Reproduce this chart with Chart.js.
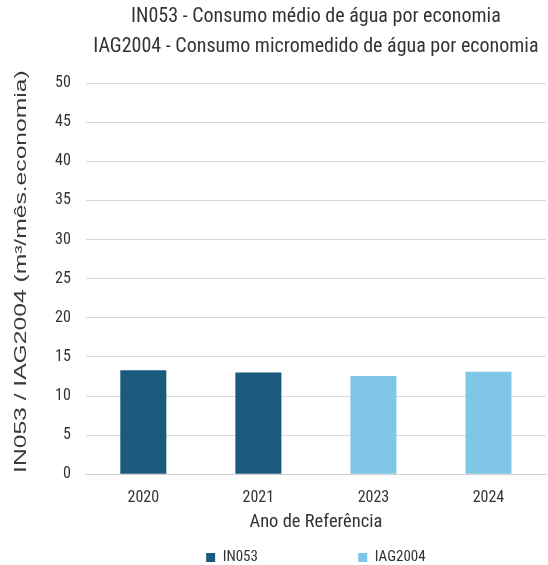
<!DOCTYPE html>
<html>
<head>
<meta charset="utf-8">
<script src="https://cdn.jsdelivr.net/npm/chart.js@4/dist/chart.umd.min.js"></script>
<style>
    html, body { margin: 0; padding: 0; background: #fff; }
    #wrap { width: 548px; height: 565px; }
</style>
</head>
<body>
<div id="wrap"><canvas id="consumoChart"></canvas></div>
<script>
// Chart data
const years = ['2020', '2021', '2023', '2024'];
const in053Values = [13.3, 13.0, null, null];
const iag2004Values = [null, null, 12.55, 13.1];
const seriesNames = ['IN053', 'IAG2004'];
const titleLines = [
    'IN053 - Consumo médio de água por economia',
    'IAG2004 - Consumo micromedido de água por economia'
];
const yAxisTitle = 'IN053 / IAG2004 (m³/mês.economia)';
const xAxisTitle = 'Ano de Referência';

const narrowFont = "'Roboto Condensed', 'DejaVu Sans Condensed', sans-serif";
const textColor = '#333333';

// The y title in the original is stretched along its length, so draw it by hand
const yTitlePlugin = {
    id: 'yTitle',
    afterDraw(chart) {
        const { ctx, chartArea } = chart;
        ctx.save();
        ctx.translate(22, (chartArea.top + chartArea.bottom) / 2 - 7);
        ctx.rotate(-Math.PI / 2);
        ctx.scale(1.54, 1);
        ctx.font = "16px 'Liberation Sans', Arial, sans-serif";
        ctx.fillStyle = '#3a3a3a';
        ctx.textAlign = 'center';
        ctx.textBaseline = 'middle';
        ctx.fillText(yAxisTitle, 0, 0);
        ctx.restore();
    }
};

const ctx = document.getElementById('consumoChart').getContext('2d');

new Chart(ctx, {
    type: 'bar',
    data: {
        labels: years,
        datasets: [{
            label: seriesNames[0],
            data: in053Values,
            backgroundColor: '#1a5a7d'
        }, {
            label: seriesNames[1],
            data: iag2004Values,
            backgroundColor: '#80c6e7'
        }]
    },
    options: {
        responsive: true,
        maintainAspectRatio: false,
        animation: false,
        skipNull: true,
        categoryPercentage: 0.8,
        barPercentage: 0.5,
        layout: {
            padding: { left: 40, right: 2, top: 0, bottom: -10 }
        },
        plugins: {
            title: {
                display: true,
                text: titleLines,
                fullSize: false,
                color: textColor,
                font: { family: narrowFont, size: 20, weight: 'normal', lineHeight: 1.5 },
                padding: { top: 2, bottom: 21 }
            },
            legend: {
                position: 'bottom',
                fullSize: false,
                labels: {
                    color: textColor,
                    font: { family: narrowFont, size: 15 },
                    boxWidth: 9,
                    boxHeight: 9,
                    padding: 8,
                    generateLabels: (chart) => {
                        const items = Chart.defaults.plugins.legend.labels.generateLabels(chart);
                        // widen the gap after the first entry like the original
                        items[0].text = items[0].text + '\u2003\u2003\u2003\u2003\u2003\u2003\u2002\u2002';
                        return items;
                    }
                }
            },
            tooltip: { enabled: false }
        },
        scales: {
            x: {
                grid: { display: false },
                border: { color: '#d0d0d0' },
                ticks: {
                    color: textColor,
                    font: { family: narrowFont, size: 16 },
                    padding: 6
                },
                title: {
                    display: true,
                    text: xAxisTitle,
                    color: textColor,
                    font: { family: narrowFont, size: 18.5, lineHeight: 1.0 },
                    padding: { top: 0, bottom: 10 }
                }
            },
            y: {
                min: 0,
                max: 50,
                ticks: {
                    stepSize: 5,
                    color: textColor,
                    font: { family: narrowFont, size: 16 },
                    padding: 15
                },
                grid: {
                    color: '#d9d9d9',
                    drawTicks: false
                },
                border: { display: false }
            }
        }
    },
    plugins: [yTitlePlugin]
});
</script>
</body>
</html>
